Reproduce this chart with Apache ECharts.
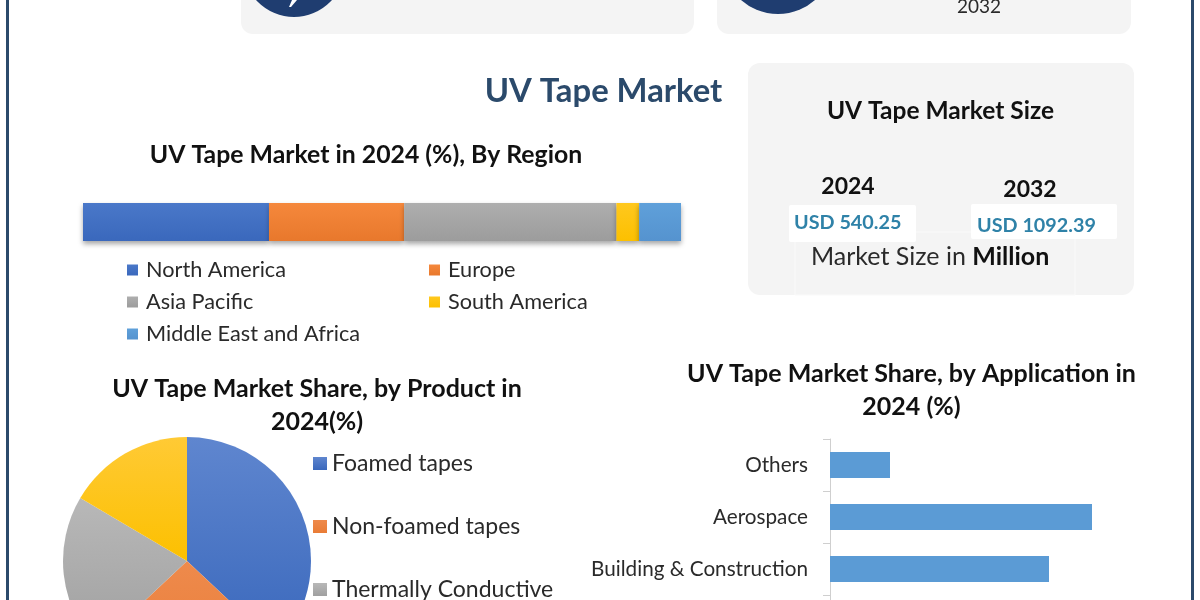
<!DOCTYPE html>
<html>
<head>
<meta charset="utf-8">
<style>html,body{margin:0;padding:0;background:#fff}#chart{width:1200px;height:600px}</style>
<script src="https://cdn.jsdelivr.net/npm/echarts@6/dist/echarts.min.js"></script>
</head>
<body>
<div id="chart"></div>
<script>
// Regional split, 2024 (%)
const regionNames = ['North America', 'Europe', 'Asia Pacific', 'South America', 'Middle East and Africa'];
const regionValues = [31.1, 22.6, 35.5, 3.8, 7.0];
const regionColors = [
  ['#4a78c9', '#3a68bc'], ['#f5883c', '#e8782c'], ['#aeaeae', '#9c9c9c'],
  ['#ffc81e', '#fcc000'], ['#5fa0da', '#5593cf']
];

// Product split, 2024 (%)
const productNames = ['Foamed tapes', 'Non-foamed tapes', 'Thermally Conductive', 'Others'];
const productValues = [37, 26, 20.5, 16.5];
const productColors = [
  ['#5f86cf', '#3a68bc'], ['#ee8a4c', '#e97c36'], ['#b8b8b8', '#a0a0a0'], ['#ffca35', '#fcc000']
];

// Application split, 2024 (%); the fourth row has no visible label
const applicationNames = ['Others', 'Aerospace', 'Building & Construction', ''];
const applicationValues = [6, 26.2, 21.9, null];

// Market size box
const sizeYears = ['2024', '2032'];
const sizeLabels = ['USD 540.25', 'USD 1092.39'];

const FONT = 'Lato, "Open Sans", sans-serif';
const NAVY = '#2b4a6b';
const INK = '#111';
const BODY = '#2a2a2a';

function vGrad(pair) {
  return { type: 'linear', x: 0, y: 0, x2: 0, y2: 1,
    colorStops: [{ offset: 0, color: pair[0] }, { offset: 1, color: pair[1] }] };
}
function heading(text, x, y, size, color) {
  return { text, left: x, top: y, textAlign: 'center', padding: 0,
    textStyle: { fontFamily: FONT, fontWeight: 'bold', fontSize: size, color: color || INK, lineHeight: 33 } };
}
function card(x, y, w, h) {
  return { type: 'rect', z: -5, shape: { x, y, width: w, height: h, r: 12 }, style: { fill: '#f4f4f4' } };
}
function label(text, x, y, size, weight, color, align) {
  return { type: 'text', z: 5, x, y, style: { text, fontFamily: FONT, fontSize: size, fontWeight: weight,
    fill: color, align: align || 'center', verticalAlign: 'middle' } };
}

const graphics = [
  // frame
  { type: 'rect', z: -6, shape: { x: 6, y: -10, width: 3, height: 620 }, style: { fill: NAVY } },
  { type: 'rect', z: -6, shape: { x: 1191, y: -10, width: 3, height: 620 }, style: { fill: NAVY } },
  // top summary cards, running past the upper edge
  card(241, -30, 453, 64),
  card(717, -30, 414, 64),
  { type: 'circle', z: -4, shape: { cx: 294, cy: -34, r: 51 }, style: { fill: '#1f3d70' } },
  { type: 'circle', z: -4, shape: { cx: 778, cy: -42, r: 56 }, style: { fill: '#1f3d70' } },
  { type: 'polygon', z: -3, shape: { points: [[292, 0], [297, 0], [291, 7], [289, 7]] }, style: { fill: '#fff' } },
  label('2032', 979, 7, 19, 'normal', BODY),
  // market size card
  card(748, 63, 386, 232),
  { type: 'rect', z: -4, shape: { x: 795, y: 232, width: 280, height: 63 }, style: { fill: '#f4f4f4', stroke: '#fafafa', lineWidth: 1 } },
  { type: 'rect', z: -3, shape: { x: 789, y: 205, width: 127, height: 37, r: 2 }, style: { fill: '#fff' } },
  { type: 'rect', z: -3, shape: { x: 971, y: 204, width: 146, height: 35, r: 2 }, style: { fill: '#fff' } },
  label(sizeYears[0], 848, 187, 23, 'bold', INK),
  label(sizeYears[1], 1030, 190, 23, 'bold', INK),
  label(sizeLabels[0], 794, 223, 19.8, 'bold', '#2f82a8', 'left'),
  label(sizeLabels[1], 977, 226, 19.8, 'bold', '#2f82a8', 'left'),
  { type: 'text', z: 5, x: 811, y: 257, style: {
      text: '{a|Market Size in }{b|Million}', verticalAlign: 'middle', align: 'left',
      rich: {
        a: { fontFamily: FONT, fontSize: 25, fill: BODY, color: BODY },
        b: { fontFamily: FONT, fontSize: 25, fontWeight: 'bold', fill: INK, color: INK }
      } } }
];

// One stacked series per region
const regionSeries = regionNames.map((name, i) => ({
  name, type: 'bar', stack: 'region', xAxisIndex: 0, yAxisIndex: 0, barWidth: 38,
  data: [regionValues[i]],
  itemStyle: { color: vGrad(regionColors[i]), shadowColor: 'rgba(0,0,0,0.35)', shadowBlur: 5, shadowOffsetY: 3 }
}));

const legendBase = {
  orient: 'vertical', icon: 'rect', itemWidth: 11, itemHeight: 11, itemGap: 10, padding: 0,
  textStyle: { fontFamily: FONT, fontSize: 21.7, color: BODY, padding: [0, 0, 0, 3] }
};

const option = {
  animation: false,
  backgroundColor: '#fff',
  title: [
    heading('UV Tape Market', 603.5, 75, 32.8, NAVY),
    heading('UV Tape Market Size', 940.5, 95, 24.5),
    heading('UV Tape Market in 2024 (%), By Region', 366, 139, 24.8),
    heading('UV Tape Market Share, by Product in\n2024(%)', 317, 372, 25),
    heading('UV Tape Market Share, by Application in\n2024 (%)', 911.5, 357, 25)
  ],
  graphic: graphics,
  legend: [
    { ...legendBase, left: 127, top: 259, data: [regionNames[0], regionNames[2], regionNames[4]] },
    { ...legendBase, left: 429, top: 259, data: [regionNames[1], regionNames[3]] },
    {
      ...legendBase, left: 313, top: 452, height: 300, itemWidth: 14, itemHeight: 13, itemGap: 40,
      textStyle: { fontFamily: FONT, fontSize: 23, color: BODY }, data: productNames
    }
  ],
  grid: [
    { left: 83, width: 598, top: 203, height: 38 },
    { left: 830, width: 300, top: 439, height: 208, outerBoundsMode: 'none' }
  ],
  xAxis: [
    { type: 'value', gridIndex: 0, min: 0, max: 100, show: false },
    { type: 'value', gridIndex: 1, min: 0, max: 30, show: false }
  ],
  yAxis: [
    { type: 'category', gridIndex: 0, data: ['2024'], show: false },
    {
      type: 'category', gridIndex: 1, inverse: true, data: applicationNames,
      axisLine: { show: true, lineStyle: { color: '#cfcfcf', width: 1 } },
      axisTick: { show: true, length: 7, lineStyle: { color: '#cfcfcf' } },
      axisLabel: { fontFamily: FONT, fontSize: 20.7, color: BODY, margin: 22 }
    }
  ],
  series: [
    ...regionSeries,
    {
      type: 'bar', xAxisIndex: 1, yAxisIndex: 1, barWidth: 26, data: applicationValues,
      itemStyle: { color: '#5b9bd5' }
    },
    {
      type: 'pie', center: [187, 561], radius: 124, startAngle: 90, clockwise: true,
      label: { show: false }, labelLine: { show: false },
      data: productNames.map((name, i) => ({
        name, value: productValues[i], itemStyle: { color: vGrad(productColors[i]) }
      }))
    }
  ]
};

const chart = echarts.init(document.getElementById('chart'), null, { renderer: 'canvas' });
chart.setOption(option);
</script>
</body>
</html>
